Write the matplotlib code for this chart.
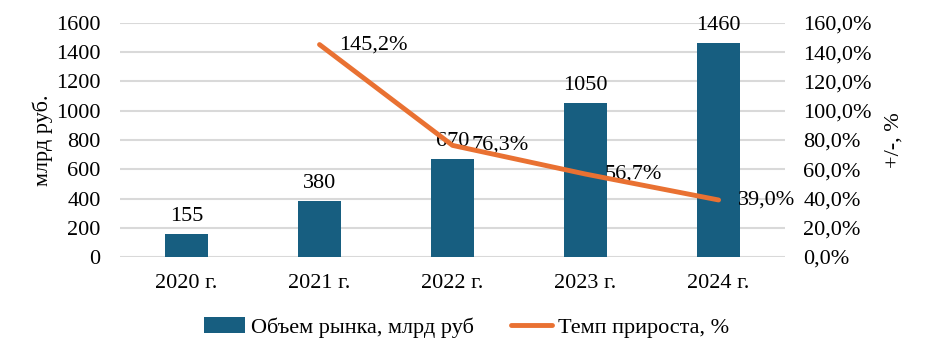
import numpy as np
import matplotlib.pyplot as plt

plt.rcParams['font.family'] = ['Liberation Serif', 'DejaVu Serif']

years = ["2020 г.", "2021 г.", "2022 г.", "2023 г.", "2024 г."]
volume = [155, 380, 670, 1050, 1460]
growth_years = [1, 2, 3, 4]
growth = [145.2, 76.3, 56.7, 39.0]

bar_color = "#175E80"
line_color = "#E97132"
fs = 16

fig = plt.figure(figsize=(9.28, 3.58), dpi=100)
ax = fig.add_axes([0.1293, 0.282, 0.7167, 0.654])
ax2 = ax.twinx()

x = np.arange(len(years))
ax.bar(x, volume, width=0.32, color=bar_color, zorder=3,
       label="Объем рынка, млрд руб")
for xi, v in zip(x, volume):
    ax.text(xi, v + 55, str(v), ha="center", va="bottom", fontsize=fs)

ax.set_xlim(-0.5, len(years) - 0.5)
ax.set_ylim(0, 1600)
ax.set_yticks(np.arange(0, 1601, 200))
ax.set_xticks(x)
ax.set_xticklabels(years)
ax.grid(axis="y", color="#D9D9D9", linewidth=1.5, zorder=0)
ax.set_axisbelow(True)
ax.set_ylabel("млрд руб.", fontsize=fs, labelpad=2)
ax.tick_params(axis="y", length=0, labelsize=fs, pad=14)
ax.tick_params(axis="x", length=0, labelsize=fs, pad=12)

ax2.plot(growth_years, growth, color=line_color, linewidth=3.5,
         solid_capstyle="round", zorder=4, label="Темп прироста, %")
for gx, g in zip(growth_years, growth):
    ax2.annotate(f"{g:.1f}%".replace(".", ","), (gx, g), xytext=(14, 0),
                 textcoords="offset points", ha="left", va="center",
                 fontsize=fs)
ax2.set_ylim(0, 160)
ax2.set_yticks(np.arange(0, 161, 20))
ax2.set_yticklabels([f"{t:.1f}%".replace(".", ",") for t in np.arange(0, 161, 20)])
ax2.tick_params(axis="y", length=0, labelsize=fs, pad=13)
ax2.set_ylabel("+/-, %", fontsize=fs, labelpad=9)

for a in (ax, ax2):
    for s in a.spines.values():
        s.set_visible(False)

h1, l1 = ax.get_legend_handles_labels()
h2, l2 = ax2.get_legend_handles_labels()
fig.legend(h1 + h2, l1 + l2, loc="center", bbox_to_anchor=(0.503, 0.085),
           ncol=2, frameon=False, fontsize=fs, handlelength=1.85,
           columnspacing=1.65, handletextpad=0.27)

fig.savefig("out.png", dpi=100)
